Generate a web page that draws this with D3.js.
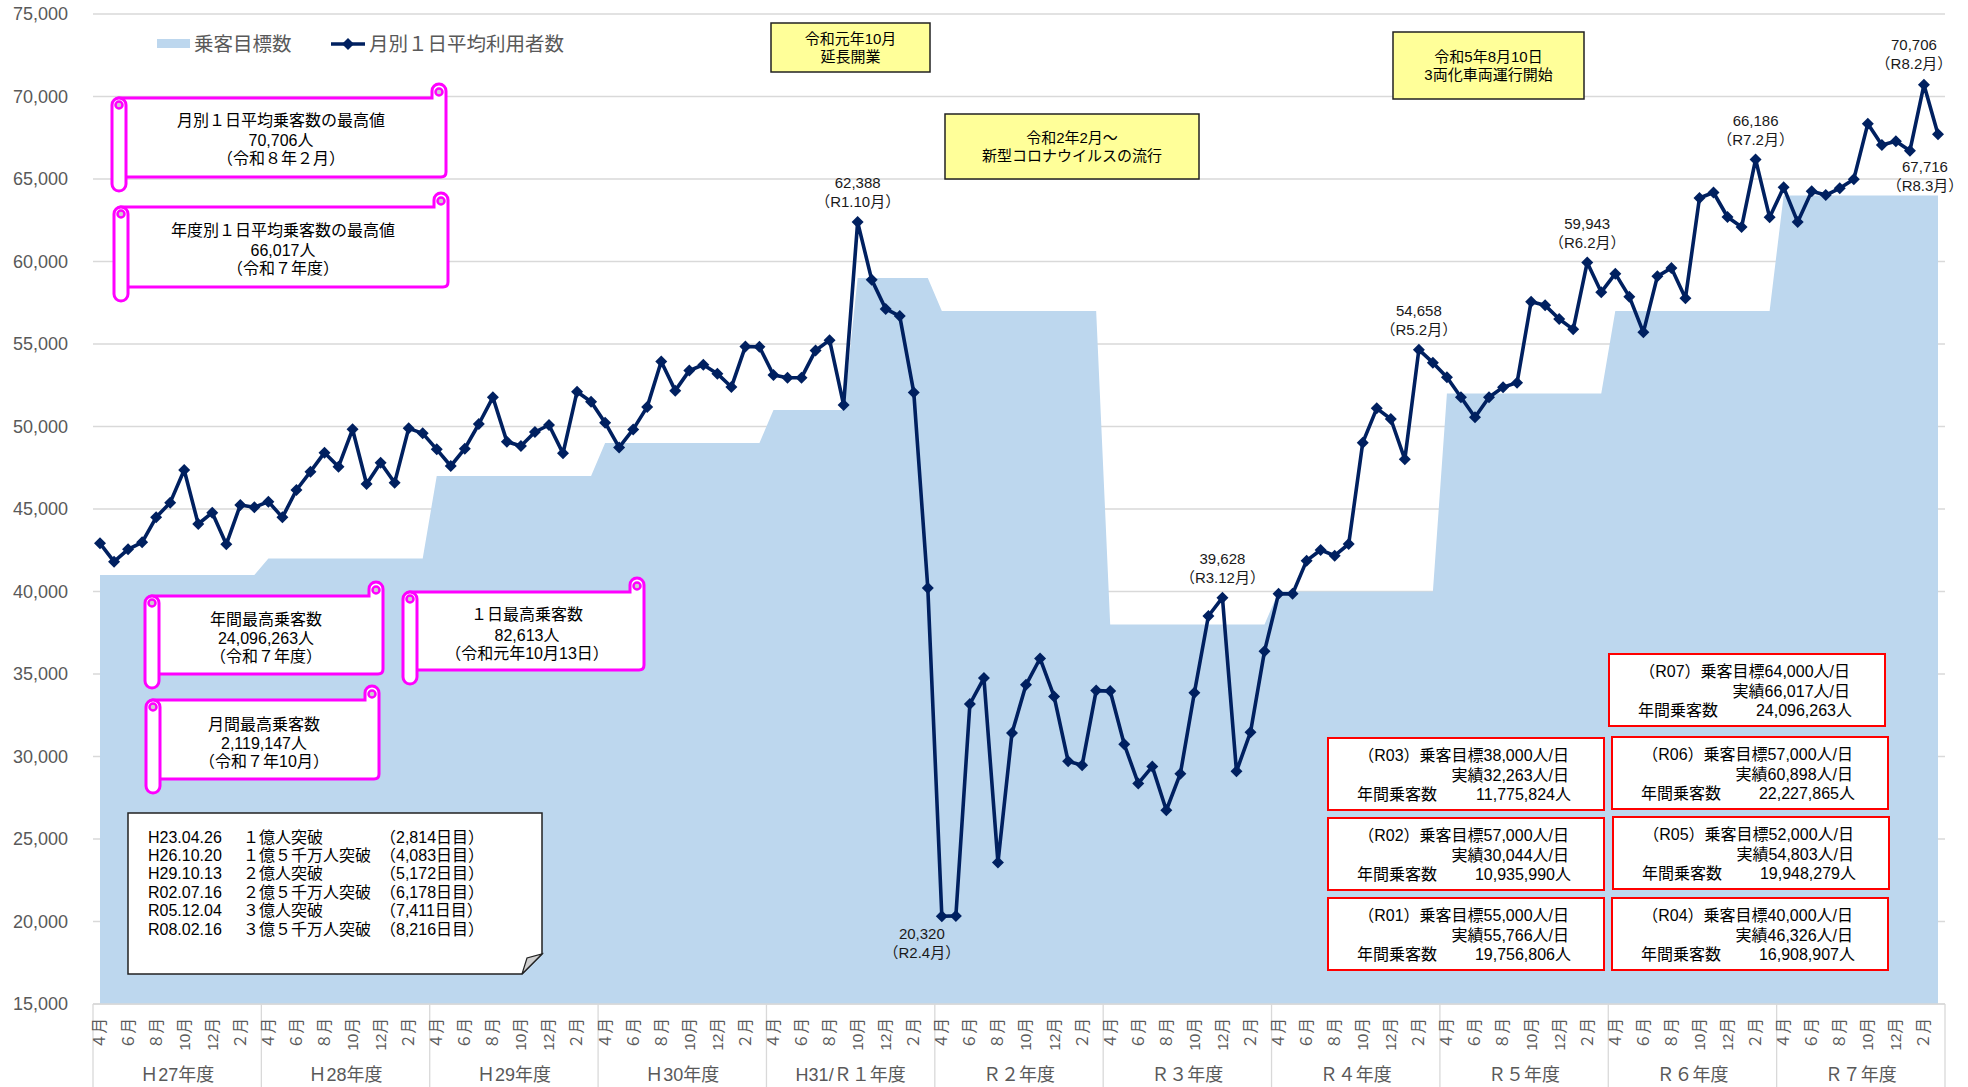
<!DOCTYPE html>
<html><head><meta charset="utf-8">
<script src="https://cdn.jsdelivr.net/npm/d3@7"></script>
<style>
body{margin:0;background:#fff}
svg{display:block}
text{font-family:"Liberation Sans","Noto Sans CJK JP",sans-serif}
</style>
</head><body>
<svg id="chart" width="1968" height="1087"></svg>
<script>
// ---------------- DATA ----------------
const fiscalYears = ["Ｈ27年度","Ｈ28年度","Ｈ29年度","Ｈ30年度","H31/Ｒ１年度","Ｒ２年度","Ｒ３年度","Ｒ４年度","Ｒ５年度","Ｒ６年度","Ｒ７年度"];
const monthNames = ["４月","５月","６月","７月","８月","９月","10月","11月","12月","１月","２月","３月"];
const shownMonths = ["４月","６月","８月","10月","12月","２月"];
const yTicks = [15000,20000,25000,30000,35000,40000,45000,50000,55000,60000,65000,70000,75000];

// 月別１日平均利用者数 (one row per fiscal year, April..March)
const riders = [
  42920,41808,42556,42980,44495,45384,47364,44091,44778,42859,45243,45101,
  45445,44495,46152,47263,48415,47566,49829,46516,47808,46596,49889,49586,
  48616,47606,48657,50152,51768,49081,48819,49667,50091,48374,52111,51505,
  50230,48729,49825,51188,53945,52173,53388,53744,53203,52391,54853,54826,
  53122,52959,52959,54610,55232,51309,62388,58900,57126,56693,52066,40216,
  20320,20340,33181,34751,23576,31423,34345,35941,33641,29718,29475,33993,
  33965,30742,28370,29389,26742,28957,33864,38514,39628,29102,31471,36384,
  39857,39857,41869,42516,42172,42879,49021,51101,50455,48010,54658,53869,
  52980,51768,50556,51768,52374,52657,57566,57343,56515,55889,59943,58140,
  59262,57869,55707,59101,59606,57767,63849,64182,62697,62090,66186,62677,
  64495,62394,64262,64030,64434,64990,68353,67060,67282,66717,70706,67716
];
// 乗客目標数 (one row per fiscal year)
const targets = [
  41000,41000,41000,41000,41000,41000,41000,41000,41000,41000,41000,41000,
  42000,42000,42000,42000,42000,42000,42000,42000,42000,42000,42000,42000,
  47000,47000,47000,47000,47000,47000,47000,47000,47000,47000,47000,47000,
  49000,49000,49000,49000,49000,49000,49000,49000,49000,49000,49000,49000,
  51000,51000,51000,51000,51000,51000,59000,59000,59000,59000,59000,59000,
  57000,57000,57000,57000,57000,57000,57000,57000,57000,57000,57000,57000,
  38000,38000,38000,38000,38000,38000,38000,38000,38000,38000,38000,38000,
  40000,40000,40000,40000,40000,40000,40000,40000,40000,40000,40000,40000,
  52000,52000,52000,52000,52000,52000,52000,52000,52000,52000,52000,52000,
  57000,57000,57000,57000,57000,57000,57000,57000,57000,57000,57000,57000,
  64000,64000,64000,64000,64000,64000,64000,64000,64000,64000,64000,64000
];
const legendNames = ["乗客目標数","月別１日平均利用者数"];

// labelled points: index into riders, value text, period text
const peakIndex  = [54, 60, 80, 94, 106, 118, 130, 131];
const peakValue  = ["62,388","20,320","39,628","54,658","59,943","66,186","70,706","67,716"];
const peakPeriod = ["（R1.10月）","（R2.4月）","（R3.12月）","（R5.2月）","（R6.2月）","（R7.2月）","（R8.2月）","（R8.3月）"];

const scrollTexts = [
  ["月別１日平均乗客数の最高値","70,706人","（令和８年２月）"],
  ["年度別１日平均乗客数の最高値","66,017人","（令和７年度）"],
  ["年間最高乗客数","24,096,263人","（令和７年度）"],
  ["１日最高乗客数","82,613人","（令和元年10月13日）"],
  ["月間最高乗客数","2,119,147人","（令和７年10月）"]
];
const milestoneDates  = ["H23.04.26","H26.10.20","H29.10.13","R02.07.16","R05.12.04","R08.02.16"];
const milestoneEvents = ["１億人突破","１億５千万人突破","２億人突破","２億５千万人突破","３億人突破","３億５千万人突破"];
const milestoneDays   = ["（2,814日目）","（4,083日目）","（5,172日目）","（6,178日目）","（7,411日目）","（8,216日目）"];

const noteTexts = [
  ["令和元年10月","延長開業"],
  ["令和2年2月～","新型コロナウイルスの流行"],
  ["令和5年8月10日","3両化車両運行開始"]
];

const yearCodes   = ["R07","R03","R06","R02","R05","R01","R04"];
const yearTarget  = ["64,000","38,000","57,000","57,000","52,000","55,000","40,000"];
const yearActual  = ["66,017","32,263","60,898","30,044","54,803","55,766","46,326"];
const yearAnnual  = ["24,096,263","11,775,824","22,227,865","10,935,990","19,948,279","19,756,806","16,908,907"];

// ---------------- LAYOUT ----------------
const svg = d3.select("#chart");
const AX = "#595959", GRID = "#D9D9D9", NAVY = "#002060", FILL = "#BDD7EE";
const x = d3.scaleBand().domain(d3.range(riders.length)).range([93,1945]);
const xc = i => x(i) + x.bandwidth()/2;
const y = d3.scaleLinear().domain([15000,75000]).range([1004,14]);
const fy = d3.scaleBand().domain(fiscalYears).range([93,1945]);

// gridlines
svg.append("g").selectAll("line").data(yTicks).join("line")
  .attr("x1",93).attr("x2",1945).attr("y1",d=>y(d)).attr("y2",d=>y(d))
  .attr("stroke",GRID).attr("stroke-width",1.3);

// y axis labels
const yAxis = svg.append("g").attr("transform","translate(93,0)")
  .call(d3.axisLeft(y).tickValues(yTicks).tickSize(0).tickPadding(25).tickFormat(d3.format(",")));
yAxis.select(".domain").remove();
yAxis.selectAll("text").attr("fill",AX).style("font-size","18px")
  .style("font-family",'"Liberation Sans","Noto Sans CJK JP",sans-serif');

// area (targets)
svg.append("path").datum(targets)
  .attr("d", d3.area().x((d,i)=>xc(i)).y0(y(15000)).y1(d=>y(d)))
  .attr("fill",FILL);

// x axis frame
const xa = svg.append("g");
xa.append("line").attr("x1",93).attr("x2",1945).attr("y1",y(15000)).attr("y2",y(15000))
  .attr("stroke",GRID).attr("stroke-width",1.3);
xa.selectAll("line.div").data(fiscalYears.concat(["end"])).join("line").attr("class","div")
  .attr("x1",(d,i)=>93 + i*fy.bandwidth()).attr("x2",(d,i)=>93 + i*fy.bandwidth())
  .attr("y1",y(15000)).attr("y2",1087).attr("stroke",GRID).attr("stroke-width",1.3);
// month labels
const monthIdx = d3.range(riders.length).filter(i => shownMonths.includes(monthNames[i%12]));
xa.selectAll("text.m").data(monthIdx).join("text").attr("class","m")
  .attr("transform",i=>`translate(${xc(i)},1018) rotate(-90)`)
  .attr("text-anchor","end").attr("dy","0.35em")
  .attr("fill",AX).style("font-size","15.5px")
  .text(i=>monthNames[i%12]);
// fiscal-year labels
xa.selectAll("text.fy").data(fiscalYears).join("text").attr("class","fy")
  .attr("x",d=>fy(d)+fy.bandwidth()/2).attr("y",1075).attr("dy","0.35em")
  .attr("text-anchor","middle").attr("fill",AX).style("font-size","18px").text(d=>d);

// line
svg.append("path").datum(riders)
  .attr("d", d3.line().x((d,i)=>xc(i)).y(d=>y(d)))
  .attr("fill","none").attr("stroke",NAVY).attr("stroke-width",3.6).attr("stroke-linejoin","round");
const diamond = "M0,-6L6,0L0,6L-6,0Z";
svg.append("g").selectAll("path").data(riders).join("path")
  .attr("d",diamond).attr("transform",(d,i)=>`translate(${xc(i)},${y(d)})`).attr("fill",NAVY);

// helper: multi-line text block in one text element
function block(g, items, size, anchor){
  const t = g.append("text").style("font-size",size+"px").attr("fill","#000");
  items.forEach(it => t.append("tspan").attr("x",it[0]).attr("y",it[1]).attr("dy","0.35em")
    .attr("text-anchor", it[3] || anchor).text(it[2]));
  return t;
}

// point labels
const placeAbove = [[0,-39],[0,-20]];
const labelOffset = {60:[[-20,18],[-20,37]], 131:[[-13,33],[-13,52]], 130:[[-10,-40],[-10,-21]]};
const pl = svg.append("g");
peakIndex.forEach((idx,k)=>{
  const off = labelOffset[idx] || placeAbove;
  const px = xc(idx), py = y(riders[idx]);
  block(pl, [[px+off[0][0], py+off[0][1], peakValue[k]], [px+off[1][0], py+off[1][1], peakPeriod[k]]], 15, "middle")
    .attr("fill","#1a1a1a");
});

// legend
const lg = svg.append("g");
lg.append("rect").attr("x",157).attr("y",39).attr("width",33).attr("height",9).attr("fill",FILL);
lg.append("text").attr("x",194).attr("y",44).attr("dy","0.35em").attr("fill",AX).style("font-size","19.5px").text(legendNames[0]);
lg.append("line").attr("x1",331).attr("x2",365).attr("y1",44).attr("y2",44).attr("stroke",NAVY).attr("stroke-width",3.6);
lg.append("path").attr("d",diamond).attr("transform","translate(348,44)").attr("fill",NAVY);
lg.append("text").attr("x",369).attr("y",44).attr("dy","0.35em").attr("fill",AX).style("font-size","19.5px").text(legendNames[1]);

// scroll shaped boxes
const MAG = "#FF00FF";
function scroll(L,T,R,B,lines,cx,ly){
  const r = 14, g = svg.append("g");
  g.append("path").attr("d",`M${L+r/2},${T+r} H${R-r} V${T+r/2} A${r/2},${r/2} 0 0 1 ${R},${T+r/2} V${B-r-5} Q${R},${B-r} ${R-5},${B-r} H${L+r/2} Z`)
    .attr("fill","#fff").attr("stroke",MAG).attr("stroke-width",3);
  g.append("circle").attr("cx",R-r/2).attr("cy",T+r/2+1).attr("r",3.5).attr("fill","#ccc").attr("stroke",MAG).attr("stroke-width",2.5);
  g.append("rect").attr("x",L).attr("y",T+r).attr("width",r).attr("height",B-T-r).attr("rx",r/2)
    .attr("fill","#fff").attr("stroke",MAG).attr("stroke-width",3);
  g.append("circle").attr("cx",L+r/2).attr("cy",T+r+r/2).attr("r",3.5).attr("fill","#ccc").attr("stroke",MAG).attr("stroke-width",2.5);
  block(g, lines.map((t,i)=>[cx, ly[i], t]), 16, "middle");
}
scroll(112,84,446,191,scrollTexts[0],281,[120,140,158.5]);
scroll(114,193,448,301,scrollTexts[1],283,[230,250,268.5]);
scroll(145,582,383,688,scrollTexts[2],266,[619,638,656.5]);
scroll(403,578,644,684,scrollTexts[3],527,[614,635,653.5]);
scroll(146,686,379,793,scrollTexts[4],264,[724,743,761.5]);

// milestone note with folded corner
const mg = svg.append("g");
mg.append("path").attr("d","M128,813 H542 V954 L522,974 H128 Z").attr("fill","#fff").attr("stroke","#222").attr("stroke-width",1.5);
mg.append("path").attr("d","M542,954 L522,974 L527,958 Z").attr("fill","#cfcfcf").attr("stroke","#222").attr("stroke-width",1.2);
const mItems = [];
milestoneDates.forEach((d,i)=>{
  const yy = 837 + i*18.4;
  mItems.push([148,yy,d],[243,yy,milestoneEvents[i]],[380,yy,milestoneDays[i]]);
});
block(mg, mItems, 16, "start");

// yellow notes
const noteBoxes = [[771,23,930,72],[945,114,1199,179],[1393,32,1584,99]];
noteBoxes.forEach((b,k)=>{
  const g = svg.append("g");
  g.append("rect").attr("x",b[0]).attr("y",b[1]).attr("width",b[2]-b[0]).attr("height",b[3]-b[1])
    .attr("fill","#FFFF99").attr("stroke","#222").attr("stroke-width",1.5);
  const cx = (b[0]+b[2])/2, cy = (b[1]+b[3])/2;
  block(g, noteTexts[k].map((t,i)=>[cx, cy-9+i*18, t]), 15, "middle");
});

// red yearly boxes
const redPos = [[1609,654],[1328,738],[1612,737],[1328,818],[1613,817],[1328,898],[1612,898]];
yearCodes.forEach((c,k)=>{
  const [L,T] = redPos[k], Wb = 276, Hb = 72, R = L+Wb;
  const g = svg.append("g");
  g.append("rect").attr("x",L).attr("y",T).attr("width",Wb).attr("height",Hb)
    .attr("fill","#fff").attr("stroke","#FF0000").attr("stroke-width",2);
  block(g, [
    [R-35, T+17, `（${c}）乗客目標${yearTarget[k]}人/日`, "end"],
    [R-35, T+37, `実績${yearActual[k]}人/日`, "end"],
    [L+29, T+56, "年間乗客数", "start"],
    [R-33, T+56, `${yearAnnual[k]}人`, "end"]
  ], 16, "start");
});
</script>
</body></html>
